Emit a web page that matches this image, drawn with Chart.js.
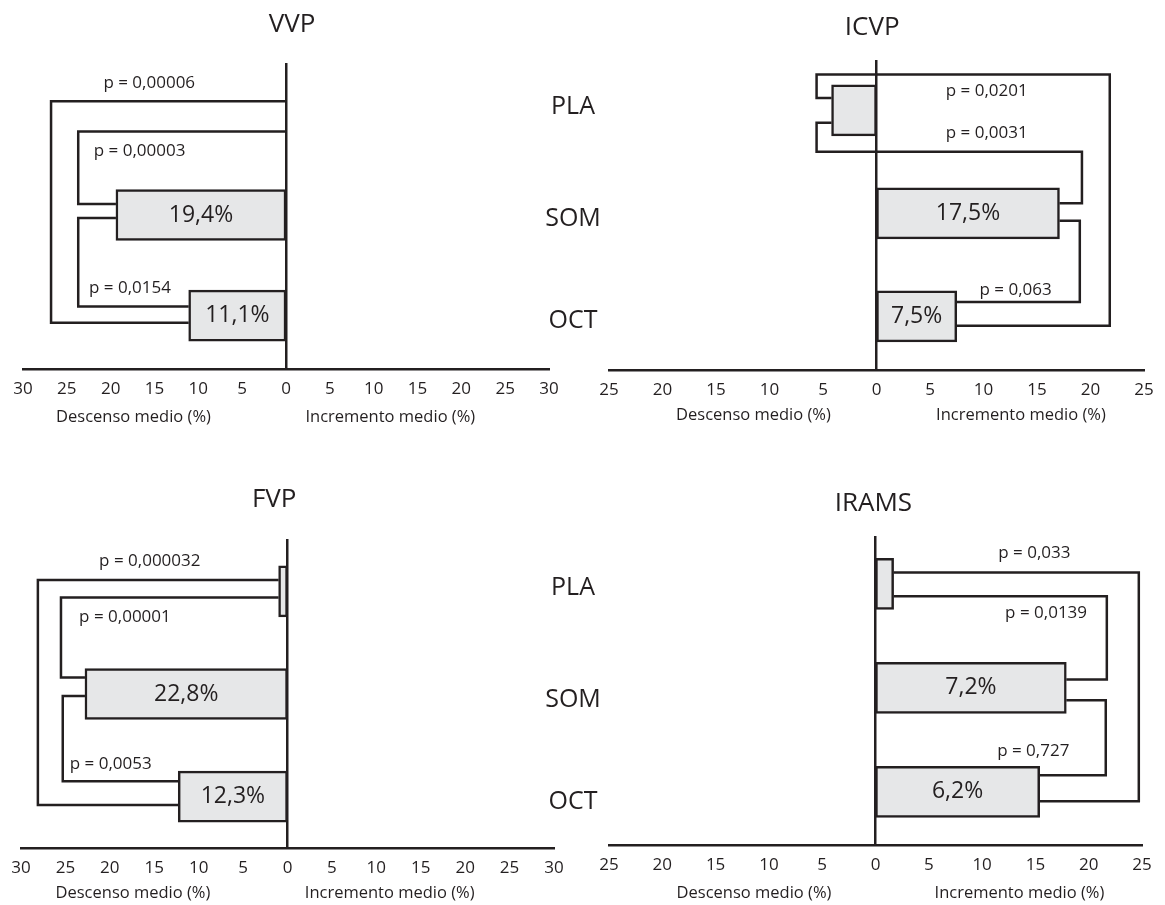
<!DOCTYPE html>
<html>
<head>
<meta charset="utf-8">
<title>VVP ICVP FVP IRAMS</title>
<script src="https://cdn.jsdelivr.net/npm/chart.js@4.4.1/dist/chart.umd.min.js"></script>
<style>
  body { margin: 0; background: #fff; }
  #page { position: relative; width: 1165px; height: 905px; font-family: 'Open Sans', sans-serif; color: #231f20; }
  .panel { position: absolute; }
  .grp { position: absolute; width: 100px; text-align: center; font-size: 25px; line-height: 30px; }
</style>
</head>
<body>
<div id="page">
  <div class="panel" style="left:0;top:0;width:580px;height:440px"><canvas id="vvp"></canvas></div>
  <div class="panel" style="left:580px;top:0;width:585px;height:440px"><canvas id="icvp"></canvas></div>
  <div class="panel" style="left:0;top:440px;width:580px;height:465px"><canvas id="fvp"></canvas></div>
  <div class="panel" style="left:580px;top:440px;width:585px;height:465px"><canvas id="irams"></canvas></div>
</div>
<script>
var categories = ['PLA', 'SOM', 'OCT'];

// mean change per group (%), negative = decrease
var vvpValues = [0, -19.4, -11.1];
var icvpValues = [-4.2, 17.1, 7.5];
var fvpValues = [-1.0, -22.8, -12.3];
var iramsValues = [1.7, 17.9, 15.4];

// text printed inside the bars
var vvpLabels = ['', '19,4%', '11,1%'];
var icvpLabels = ['', '17,5%', '7,5%'];
var fvpLabels = ['', '22,8%', '12,3%'];
var iramsLabels = ['', '7,2%', '6,2%'];

// compared pairs: PLA-OCT, PLA-SOM, SOM-OCT
var pairs = [[0, 2], [0, 1], [1, 2]];
var vvpP = ['0,00006', '0,00003', '0,0154'];
var icvpP = ['0,0201', '0,0031', '0,063'];
var fvpP = ['0,000032', '0,00001', '0,0053'];
var iramsP = ['0,033', '0,0139', '0,727'];

// how far each bracket reaches along the x axis (%)
var vvpReach = [-26.8, -23.7, -23.7];
var icvpReach = [21.8, 19.2, 19.0];
var fvpReach = [-28.1, -25.5, -25.3];
var iramsReach = [24.7, 21.7, 21.6];

// axis half ranges, ticks every 5
var vvpRange = 30, icvpRange = 25, fvpRange = 30, iramsRange = 25;
var tickStep = 5;

var INK = '#231f20';
var FILL = '#e6e7e8';
var FONT = "'Open Sans', sans-serif";
Chart.defaults.font.family = FONT;
Chart.defaults.color = INK;

// layout of each panel: paddings, bracket end heights and label anchors (data units)
var panels = [
  { id: 'vvp', title: 'VVP', values: vvpValues, labels: vvpLabels, p: vvpP, reach: vvpReach, range: vvpRange,
    pad: { left: 23, right: 31, top: 64, bottom: 41 }, yMin: -0.5, yMax: 2.53,
    ends: [[-0.13, 2.07], [0.17, 0.89], [1.03, 1.91]], hooks: [null, null, null],
    pAt: [[-15.6, -0.31], [-16.7, 0.37], [-17.8, 1.73]],
    titleAt: [0.7, -39], axisAt: [-17.4, 11.9, 48] },
  { id: 'icvp', title: 'ICVP', values: icvpValues, labels: icvpLabels, p: icvpP, reach: icvpReach, range: icvpRange,
    pad: { left: 29, right: 21, top: 61, bottom: 40 }, yMin: -0.48, yMax: 2.52,
    ends: [[-0.12, 2.09], [0.12, 0.90], [1.07, 1.86]], hooks: [[-5.6, -0.35], [-5.6, 0.40], null],
    pAt: [[10.3, -0.19], [10.3, 0.22], [13.0, 1.74]],
    titleAt: [-0.4, -33], axisAt: [-11.5, 13.5, 45] },
  { id: 'fvp', title: 'FVP', values: fvpValues, labels: fvpLabels, p: fvpP, reach: fvpReach, range: fvpRange,
    pad: { left: 21, right: 26, top: 100, bottom: 27 }, yMin: -0.5, yMax: 2.5,
    ends: [[-0.11, 2.08], [0.06, 0.84], [1.02, 1.85]], hooks: [null, null, null],
    pAt: [[-15.5, -0.29], [-18.3, 0.25], [-19.9, 1.68]],
    titleAt: [-1.5, -40], axisAt: [-17.4, 11.5, 45] },
  { id: 'irams', title: 'IRAMS', values: iramsValues, labels: iramsLabels, p: iramsP, reach: iramsReach, range: iramsRange,
    pad: { left: 29, right: 23, top: 97, bottom: 30 }, yMin: -0.45, yMax: 2.51,
    ends: [[-0.11, 2.09], [0.12, 0.92], [1.12, 1.84]], hooks: [null, null, null],
    pAt: [[14.9, -0.29], [16.0, 0.28], [14.8, 1.61]],
    titleAt: [-0.2, -33], axisAt: [-11.4, 13.5, 48] }
];

// group names sit between the two columns
var groupX = 573;
var groupRows = [[104, 216, 318], [585, 697, 799]];

function bracketPoints(pn, k) {
  var a = pairs[k][0], b = pairs[k][1];
  var e = pn.ends[k], h = pn.hooks[k], r = pn.reach[k];
  var pts = [{ x: pn.values[a], y: e[0] }];
  if (h) {
    pts.push({ x: h[0], y: e[0] }, { x: h[0], y: h[1] }, { x: r, y: h[1] });
  } else {
    pts.push({ x: r, y: e[0] });
  }
  pts.push({ x: r, y: e[1] }, { x: pn.values[b], y: e[1] });
  return pts;
}

var notes = {};

function noteItems(pn) {
  var items = [];
  pn.labels.forEach(function (t, i) {
    if (t) items.push({ text: t, x: pn.values[i] / 2, y: i, size: 23 });
  });
  pn.p.forEach(function (t, k) {
    items.push({ text: 'p = ' + t, x: pn.pAt[k][0], y: pn.pAt[k][1], size: 17 });
  });
  items.push({ text: pn.title, x: pn.titleAt[0], top: pn.titleAt[1], size: 26 });
  items.push({ text: 'Descenso medio (%)', x: pn.axisAt[0], bottom: pn.axisAt[2], size: 16.5 });
  items.push({ text: 'Incremento medio (%)', x: pn.axisAt[1], bottom: pn.axisAt[2], size: 16.5 });
  return items;
}

var notesPlugin = {
  id: 'notes',
  afterDraw: function (chart) {
    var ctx = chart.ctx, area = chart.chartArea;
    var sx = chart.scales.x, sy = chart.scales.y;
    ctx.save();
    ctx.fillStyle = INK;
    ctx.textAlign = 'center';
    ctx.textBaseline = 'middle';
    notes[chart.canvas.id].forEach(function (it) {
      ctx.font = it.size + 'px ' + FONT;
      var py;
      if (it.top !== undefined) py = area.top + it.top;
      else if (it.bottom !== undefined) py = area.bottom + it.bottom;
      else py = sy.getPixelForValue(it.y);
      ctx.fillText(it.text, sx.getPixelForValue(it.x), py);
    });
    ctx.restore();
  }
};

panels.forEach(function (pn) {
  notes[pn.id] = noteItems(pn);

  var datasets = [{
    type: 'bar',
    data: pn.values.map(function (v, i) { return { x: v, y: i }; }),
    backgroundColor: FILL,
    borderColor: INK,
    borderWidth: 2.5,
    borderSkipped: false,
    barThickness: 51,
    order: 0
  }];
  pairs.forEach(function (pr, k) {
    datasets.push({
      type: 'line',
      data: bracketPoints(pn, k),
      borderColor: INK,
      borderWidth: 2.5,
      borderJoinStyle: 'miter',
      pointRadius: 0,
      fill: false,
      tension: 0,
      order: 1
    });
  });

  new Chart(document.getElementById(pn.id), {
    type: 'bar',
    data: { datasets: datasets },
    options: {
      indexAxis: 'y',
      responsive: true,
      maintainAspectRatio: false,
      animation: false,
      events: [],
      layout: { padding: pn.pad },
      plugins: { legend: { display: false }, tooltip: { enabled: false } },
      scales: {
        x: {
          type: 'linear',
          min: -pn.range,
          max: pn.range,
          offset: false,
          ticks: {
            stepSize: tickStep,
            autoSkip: false,
            maxRotation: 0,
            padding: 10,
            color: INK,
            font: { size: 17 },
            callback: function (v) { return Math.abs(v); }
          },
          grid: { display: false, drawTicks: false },
          border: { color: INK, width: 2.5 },
          afterFit: function (s) { s.height = 30; }
        },
        y: {
          type: 'linear',
          min: pn.yMin,
          max: pn.yMax,
          reverse: true,
          offset: false,
          position: { x: 0 },
          ticks: { display: false },
          grid: { display: false, drawTicks: false, offset: false },
          border: { color: INK, width: 2.5 }
        }
      }
    },
    plugins: [notesPlugin]
  });
});

var page = document.getElementById('page');
groupRows.forEach(function (row) {
  row.forEach(function (cy, i) {
    var d = document.createElement('div');
    d.className = 'grp';
    d.textContent = categories[i];
    d.style.left = (groupX - 50) + 'px';
    d.style.top = (cy - 15) + 'px';
    page.appendChild(d);
  });
});
</script>
</body>
</html>
